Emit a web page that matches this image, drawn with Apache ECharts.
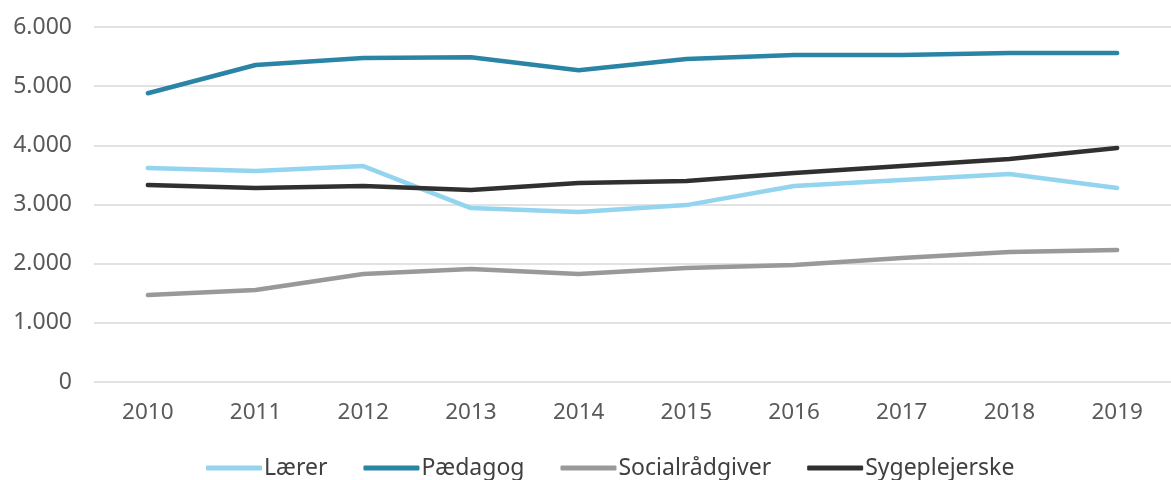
<!DOCTYPE html>
<html><head><meta charset="utf-8">
<script src="https://cdn.jsdelivr.net/npm/echarts@6/dist/echarts.min.js"></script>
<style>html,body{margin:0;padding:0;background:#fff}#c{width:1171px;height:480px}</style>
</head><body><div id="c"></div>
<script>
const years = ['2010','2011','2012','2013','2014','2015','2016','2017','2018','2019'];
const laerer = [3617,3566,3650,2940,2873,2990,3312,3414,3515,3280];
const paedagog = [4880,5357,5475,5490,5270,5460,5525,5525,5560,5560];
const socialraadgiver = [1470,1555,1825,1910,1825,1927,1977,2096,2197,2231];
const sygeplejerske = [3330,3280,3312,3245,3363,3397,3532,3650,3769,3955];
const names = ['Lærer','Pædagog','Socialrådgiver','Sygeplejerske'];
const colors = ['#93d4ef','#2a84a6','#999999','#303030'];
const font = 'Noto Sans';
const chart = echarts.init(document.getElementById('c'));
const mk = (name, data, color) => ({name, type:'line', data, symbol:'none', smooth:false,
  lineStyle:{width:4.5, color, cap:'round', join:'round'}, itemStyle:{color}});
chart.setOption({
  animation:false,
  color: colors,
  grid:{left:94, right:-13, top:27, bottom:98},
  legend:{top:450, left:201, itemWidth:56, itemHeight:5, itemGap:36, padding:[5,5,5,5],
    icon:'roundRect',
    textStyle:{fontFamily:font, fontSize:23, color:'#404040', padding:[0,0,0,-3], lineHeight:26},
    data:names},
  xAxis:{type:'category', data:years, boundaryGap:true,
    axisLine:{show:false}, axisTick:{show:false},
    axisLabel:{fontFamily:font, fontSize:22.5, color:'#595959', margin:19}},
  yAxis:{type:'value', min:0, max:6000, interval:1000,
    axisLabel:{fontFamily:font, fontSize:23, color:'#595959', margin:22,
      formatter:v=>v.toLocaleString('da-DK').replace(/,/g,'.')},
    splitLine:{lineStyle:{color:'#d9d9d9', width:1.5}}},
  series:[mk(names[0],laerer,colors[0]), mk(names[1],paedagog,colors[1]),
          mk(names[2],socialraadgiver,colors[2]), mk(names[3],sygeplejerske,colors[3])]
});
</script></body></html>
